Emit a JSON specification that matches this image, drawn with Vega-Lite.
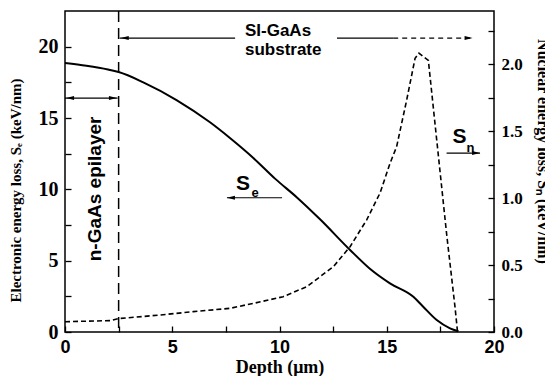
{
  "$schema": "https://vega.github.io/schema/vega-lite/v6.json",
  "width": 429,
  "height": 321,
  "autosize": "none",
  "padding": {"left": 65, "top": 11, "right": 51, "bottom": 44},
  "background": "white",
  "config": {
    "view": {"stroke": "black", "strokeWidth": 1.5},
    "axis": {
      "labelColor": "black", "titleColor": "black",
      "tickColor": "black", "tickWidth": 1.3, "domain": false, "grid": false,
      "labelFlush": false, "labelOverlap": false
    }
  },
  "datasets": {
    "se": [
      {"d": 0, "v": 18.85}, {"d": 1, "v": 18.66}, {"d": 2, "v": 18.4}, {"d": 2.5, "v": 18.22},
      {"d": 3.65, "v": 17.5}, {"d": 5.2, "v": 16.26}, {"d": 6.76, "v": 14.7}, {"d": 7.69, "v": 13.6},
      {"d": 8.78, "v": 12.2}, {"d": 9.79, "v": 10.75}, {"d": 10.8, "v": 9.45}, {"d": 11.89, "v": 7.9},
      {"d": 13.29, "v": 5.75}, {"d": 14.2, "v": 4.45}, {"d": 15.15, "v": 3.41}, {"d": 16.24, "v": 2.47},
      {"d": 16.7, "v": 1.77}, {"d": 17.33, "v": 0.84}, {"d": 17.95, "v": 0.26}, {"d": 18.34, "v": 0.05}
    ],
    "sn": [
      {"d": 0, "v": 0.077}, {"d": 2.1, "v": 0.085}, {"d": 2.48, "v": 0.1}, {"d": 4.43, "v": 0.127},
      {"d": 5.98, "v": 0.152}, {"d": 7.69, "v": 0.177}, {"d": 8.78, "v": 0.214}, {"d": 10.17, "v": 0.264},
      {"d": 11.27, "v": 0.339}, {"d": 12.51, "v": 0.488}, {"d": 13.29, "v": 0.638}, {"d": 14.06, "v": 0.837},
      {"d": 14.69, "v": 1.04}, {"d": 15.15, "v": 1.26}, {"d": 15.46, "v": 1.385}, {"d": 15.93, "v": 1.735},
      {"d": 16.32, "v": 2.046}, {"d": 16.5, "v": 2.085}, {"d": 16.94, "v": 2.03}, {"d": 17.33, "v": 1.435},
      {"d": 17.8, "v": 0.72}, {"d": 18.18, "v": 0.19}, {"d": 18.3, "v": 0.0}
    ],
    "solidSeg": [
      {"d": 0, "d2": 2.45, "v": 16.4},
      {"d": 2.55, "d2": 7.93, "v": 20.6},
      {"d": 12.68, "d2": 15.3, "v": 20.6},
      {"d": 7.55, "d2": 10.12, "v": 9.41},
      {"d": 17.79, "d2": 19.35, "v": 12.54}
    ],
    "dashSeg": [{"d": 15.3, "d2": 19.0, "v": 20.6}],
    "heads": [
      {"d": 0.05, "v": 16.4, "dir": "L"},
      {"d": 2.42, "v": 16.4, "dir": "R"},
      {"d": 2.6, "v": 20.6, "dir": "L"},
      {"d": 19.0, "v": 20.6, "dir": "R"},
      {"d": 7.55, "v": 9.41, "dir": "L"},
      {"d": 19.35, "v": 12.54, "dir": "R"}
    ],
    "bigText": [
      {"d": 8.39, "v": 20.75, "t": "SI-GaAs"},
      {"d": 8.39, "v": 19.45, "t": "substrate"}
    ],
    "sym": [
      {"d": 8.3, "v": 9.95, "t": "S", "sz": "big"},
      {"d": 8.86, "v": 9.45, "t": "e", "sz": "small"},
      {"d": 18.39, "v": 13.24, "t": "S", "sz": "big"},
      {"d": 18.9, "v": 12.6, "t": "n", "sz": "small"}
    ],
    "epi": [{"d": 1.68, "v": 10.03, "t": "n-GaAs epilayer"}],
    "vline": [{"d": 2.5}]
  },
  "layer": [
    {
      "layer": [
        {
          "data": {"name": "se"},
          "mark": {"type": "line", "color": "black", "strokeWidth": 2, "interpolate": "monotone"},
          "encoding": {
            "x": {
              "field": "d", "type": "quantitative",
              "scale": {"domain": [0, 20], "nice": false, "zero": false},
              "axis": {
                "values": [0, 2.5, 5, 7.5, 10, 12.5, 15, 17.5, 20],
                "labelExpr": "datum.value % 5 === 0 ? datum.label : ''",
                "tickSize": -6, "labelPadding": 12,
                "labelFont": "Liberation Sans", "labelFontSize": 18, "labelFontWeight": "bold",
                "title": "Depth (μm)", "titleBaseline": "alphabetic", "titleY": 40,
                "titleFont": "Liberation Serif", "titleFontSize": 18, "titleFontWeight": "bold"
              }
            },
            "y": {
              "field": "v", "type": "quantitative",
              "scale": {"domain": [0, 22.5], "nice": false, "zero": false},
              "axis": {
                "orient": "left",
                "values": [0, 2.5, 5, 7.5, 10, 12.5, 15, 17.5, 20],
                "labelExpr": "datum.value % 5 === 0 ? datum.label : ''",
                "tickSize": -6, "labelPadding": 13,
                "labelFont": "Liberation Serif", "labelFontSize": 20, "labelFontWeight": "bold",
                "title": "Electronic energy loss, Sₑ (keV/nm)",
                "titleFont": "Liberation Serif", "titleFontSize": 15, "titleFontWeight": "bold",
                "titleAngle": -90, "titleX": -50, "titleY": 179, "titleAlign": "center", "titleBaseline": "middle"
              }
            }
          }
        },
        {
          "data": {"name": "vline"},
          "mark": {"type": "rule", "color": "black", "strokeWidth": 1.5, "strokeDash": [11, 6]},
          "encoding": {"x": {"field": "d", "type": "quantitative"}}
        },
        {
          "data": {"name": "solidSeg"},
          "mark": {"type": "rule", "color": "black", "strokeWidth": 1.2},
          "encoding": {
            "x": {"field": "d", "type": "quantitative"},
            "x2": {"field": "d2"},
            "y": {"field": "v", "type": "quantitative"}
          }
        },
        {
          "data": {"name": "dashSeg"},
          "mark": {"type": "rule", "color": "black", "strokeWidth": 1.2, "strokeDash": [5, 4]},
          "encoding": {
            "x": {"field": "d", "type": "quantitative"},
            "x2": {"field": "d2"},
            "y": {"field": "v", "type": "quantitative"}
          }
        },
        {
          "data": {"name": "heads"},
          "mark": {"type": "point", "filled": true, "color": "black", "opacity": 1, "size": 64},
          "encoding": {
            "x": {"field": "d", "type": "quantitative"},
            "y": {"field": "v", "type": "quantitative"},
            "shape": {
              "field": "dir", "type": "nominal", "legend": null,
              "scale": {"domain": ["L", "R"], "range": ["M0,0L2,-0.5L2,0.5Z", "M0,0L-2,-0.5L-2,0.5Z"]}
            }
          }
        },
        {
          "data": {"name": "bigText"},
          "mark": {"type": "text", "font": "Liberation Sans", "fontWeight": "bold", "fontSize": 17, "align": "left", "baseline": "alphabetic", "color": "black"},
          "encoding": {
            "x": {"field": "d", "type": "quantitative"},
            "y": {"field": "v", "type": "quantitative"},
            "text": {"field": "t"}
          }
        },
        {
          "data": {"name": "sym"},
          "mark": {"type": "text", "font": "Liberation Sans", "fontWeight": "bold", "align": "center", "baseline": "alphabetic", "color": "black"},
          "encoding": {
            "x": {"field": "d", "type": "quantitative"},
            "y": {"field": "v", "type": "quantitative"},
            "text": {"field": "t"},
            "size": {"field": "sz", "type": "nominal", "legend": null, "scale": {"domain": ["big", "small"], "range": [21, 13]}}
          }
        },
        {
          "data": {"name": "epi"},
          "mark": {"type": "text", "font": "Liberation Sans", "fontWeight": "bold", "fontSize": 19, "angle": 270, "align": "center", "baseline": "alphabetic", "color": "black"},
          "encoding": {
            "x": {"field": "d", "type": "quantitative"},
            "y": {"field": "v", "type": "quantitative"},
            "text": {"field": "t"}
          }
        }
      ]
    },
    {
      "data": {"name": "sn"},
      "mark": {"type": "line", "color": "black", "strokeWidth": 1.6, "strokeDash": [5, 3]},
      "encoding": {
        "x": {"field": "d", "type": "quantitative"},
        "y": {
          "field": "v", "type": "quantitative",
          "scale": {"domain": [0, 2.4], "nice": false, "zero": false},
          "axis": {
            "orient": "right",
            "values": [0, 0.25, 0.5, 0.75, 1, 1.25, 1.5, 1.75, 2, 2.25],
            "labelExpr": "abs(datum.value * 2 - round(datum.value * 2)) < 0.001 ? format(datum.value, '.1f') : ''",
            "tickSize": -6, "labelPadding": 13,
            "labelFont": "Liberation Serif", "labelFontSize": 17, "labelFontWeight": "bold",
            "title": "Nuclear energy loss, Sₙ (keV/nm)",
            "titleFont": "Liberation Serif", "titleFontSize": 16, "titleFontWeight": "bold",
            "titleAngle": 90, "titleX": 43, "titleY": 140, "titleAlign": "center", "titleBaseline": "alphabetic"
          }
        }
      }
    }
  ],
  "resolve": {"scale": {"y": "independent"}, "axis": {"y": "independent"}}
}
